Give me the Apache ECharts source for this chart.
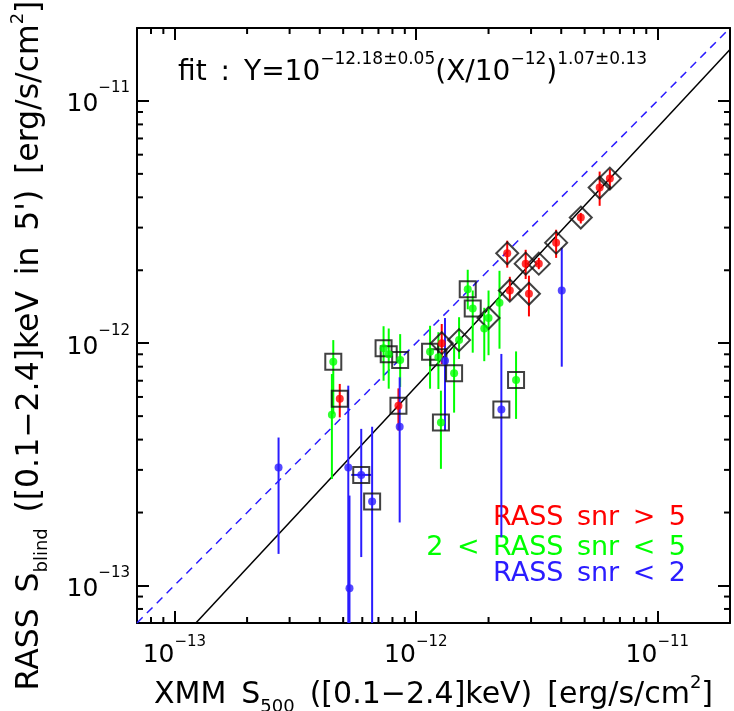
<!DOCTYPE html>
<html>
<head>
<meta charset="utf-8">
<script src="https://cdn.jsdelivr.net/npm/echarts@6/dist/echarts.min.js"></script>
<style>
  html, body { margin: 0; padding: 0; background: #fff; }
  #chart { width: 734px; height: 711px; }
</style>
</head>
<body>
<div id="chart"></div>
<script>
// all fluxes in units of 1e-12 erg/s/cm2
const axisMin = 0.07;
const axisMax = 20;

// RASS snr > 5
const redX    = [6.36, 5.77, 4.82, 3.81, 2.39, 2.85, 3.23, 2.45, 2.94, 1.28, 0.847, 0.484];
const redY    = [4.78, 4.39, 3.30, 2.60, 2.35, 2.13, 2.13, 1.65, 1.60, 1.00, 0.552, 0.590];
const redLo   = [4.32, 3.69, 3.12, 2.25, 2.05, 1.84, 2.02, 1.50, 1.29, 0.82, 0.436, 0.494];
const redHi   = [5.23, 5.11, 3.45, 2.94, 2.65, 2.43, 2.25, 1.88, 1.90, 1.20, 0.651, 0.679];
const redMark = ['d', 'd', 'd', 'd', 'd', 'd', 'd', 'd', 'd', 'd', 's', 's'];

// 2 < RASS snr < 5
const greenX    = [0.455, 0.449, 0.735, 0.772, 0.861, 1.145, 1.24, 1.51, 1.44, 1.27, 1.64, 1.72, 2.00, 1.92, 2.22, 2.60];
const greenY    = [0.839, 0.507, 0.954, 0.901, 0.852, 0.923, 0.876, 1.03, 0.752, 0.471, 1.67, 1.39, 1.27, 1.15, 1.47, 0.705];
const greenLo   = [0.511, 0.275, 0.700, 0.649, 0.660, 0.649, 0.647, 0.861, 0.517, 0.303, 1.38, 0.914, 0.892, 0.843, 0.949, 0.487];
const greenHi   = [1.03, 0.746, 1.175, 1.15, 1.09, 1.18, 1.11, 1.28, 0.961, 0.637, 2.01, 1.65, 1.65, 1.40, 1.99, 0.925];
const greenMark = ['s', '', 's', 's', 's', 's', 's', 'd', 's', 's', 's', 's', 'd', '', '', 's'];

// RASS snr < 2  (lower ends below 0.07 run off the axis)
const blueX    = [4.02, 1.32, 2.26, 0.857, 0.659, 0.594, 0.525, 0.531, 0.270];
const blueY    = [1.65, 0.847, 0.532, 0.452, 0.222, 0.286, 0.307, 0.0975, 0.307];
const blueLo   = [0.800, 0.436, 0.158, 0.182, 0.01, 0.131, 0.01, 0.01, 0.135];
const blueHi   = [2.48, 1.27, 0.903, 0.723, 0.452, 0.443, 0.668, 0.235, 0.408];
const blueXLo  = [null, null, null, null, null, 0.540, null, null, null];
const blueXHi  = [null, null, null, null, null, 0.653, null, null, null];
const blueMark = ['', '', 's', '', 's', 's', '', '', ''];

// fit: Y = 10^a (X/1e-12)^b
const fitNorm = -12.18;
const fitSlope = 1.07;

const majorTicks = [-13, -12, -11];

const RED = '#ff0000';
const GREEN = '#00ff00';
const BLUE = '#2a1cff';
const FONT = 'DejaVu Sans';
const EN = '\u2002';

const lg = v => Math.log10(v * 1e-12);
const xMin = lg(axisMin);
const xMax = lg(axisMax);

const minorTicks = [];
for (let n = -14; n <= -11; n++) {
  for (let k = 2; k <= 9; k++) {
    const t = n + Math.log10(k);
    if (t > xMin && t < xMax) minorTicks.push(t);
  }
}

const groups = [
  { color: RED, x: redX, y: redY, lo: redLo, hi: redHi, mark: redMark },
  { color: GREEN, x: greenX, y: greenY, lo: greenLo, hi: greenHi, mark: greenMark },
  { color: BLUE, x: blueX, y: blueY, lo: blueLo, hi: blueHi, mark: blueMark, xlo: blueXLo, xhi: blueXHi }
];

const tickRich = {
  b: { fontSize: 25, fontFamily: FONT, color: '#000', lineHeight: 40 },
  e: { fontSize: 15, fontFamily: FONT, color: '#000', verticalAlign: 'top' }
};
const tickRichY = {
  b: { fontSize: 25, fontFamily: FONT, color: '#000', lineHeight: 40, padding: [8, 0, 0, 0] },
  e: { fontSize: 15, fontFamily: FONT, color: '#000', verticalAlign: 'top', padding: [0, 0, 0, 0] }
};
const tickFormatter = v => '{b|10}{e|−' + Math.abs(Math.round(v)) + '}';

const titleRich = size => ({
  t: { fontSize: size, fontFamily: FONT, color: '#000', lineHeight: 42 },
  sub: { fontSize: 18, fontFamily: FONT, color: '#000', verticalAlign: 'bottom' },
  sup: { fontSize: 18, fontFamily: FONT, color: '#000', verticalAlign: 'top' }
});

function makeAxis(pos, opts) {
  return Object.assign({
    type: 'value',
    min: xMin,
    max: xMax,
    position: pos,
    axisLine: { show: true, onZero: false, lineStyle: { color: '#000', width: 2 } },
    axisTick: {
      show: true,
      inside: true,
      length: 12,
      lineStyle: { color: '#000', width: 2 },
      customValues: majorTicks
    },
    axisLabel: { show: false },
    splitLine: { show: false }
  }, opts || {});
}

const xAxis = [
  makeAxis('bottom', {
    axisLabel: {
      show: true, margin: 12, customValues: majorTicks,
      formatter: tickFormatter, rich: tickRich
    },
    name: `{t|XMM${EN}S}{sub|500}{t|${EN}([0.1−2.4]keV)${EN}[erg/s/cm}{sup|2}{t|]}`,
    nameLocation: 'middle',
    nameGap: 51,
    nameTextStyle: { rich: titleRich(30) }
  }),
  makeAxis('top')
];

const yAxis = [
  makeAxis('left', {
    axisLabel: {
      show: true, margin: 7, customValues: majorTicks,
      formatter: tickFormatter, rich: tickRichY
    },
    name: `{t|RASS${EN}S}{sub|blind}{t|${EN}([0.1−2.4]keV${EN}in${EN}5')${EN}[erg/s/cm}{sup|2}{t|]}`,
    nameLocation: 'middle',
    nameGap: 86,
    nameTextStyle: { rich: titleRich(31.5), padding: [0, 40, 0, 0] }
  }),
  makeAxis('right')
];

const series = [];

// minor (log) ticks on all four sides
series.push({
  type: 'custom',
  z: 5,
  silent: true,
  data: minorTicks.map(t => [t, t]),
  encode: { x: 0, y: 1 },
  renderItem: (params, api) => {
    const p = api.coord([api.value(0), api.value(1)]);
    const cs = params.coordSys;
    const L = 6;
    const x0 = cs.x, x1 = cs.x + cs.width, y0 = cs.y, y1 = cs.y + cs.height;
    const st = { stroke: '#000', lineWidth: 2 };
    return {
      type: 'group',
      children: [
        { type: 'line', shape: { x1: p[0], y1: y1, x2: p[0], y2: y1 - L }, style: st },
        { type: 'line', shape: { x1: p[0], y1: y0, x2: p[0], y2: y0 + L }, style: st },
        { type: 'line', shape: { x1: x0, y1: p[1], x2: x0 + L, y2: p[1] }, style: st },
        { type: 'line', shape: { x1: x1, y1: p[1], x2: x1 - L, y2: p[1] }, style: st }
      ]
    };
  }
});

// error bars
groups.forEach(g => {
  const bars = g.x.map((x, i) => [lg(x), lg(g.lo[i]), lg(g.hi[i])]);
  series.push({
    type: 'custom',
    z: 2,
    data: bars,
    encode: { x: 0, y: [1, 2] },
    renderItem: (params, api) => {
      const a = api.coord([api.value(0), api.value(1)]);
      const b = api.coord([api.value(0), api.value(2)]);
      const cs = params.coordSys;
      const clampY = y => Math.min(Math.max(y, cs.y), cs.y + cs.height);
      return {
        type: 'line',
        shape: { x1: a[0], y1: clampY(a[1]), x2: b[0], y2: clampY(b[1]) },
        style: { stroke: g.color, lineWidth: 2 }
      };
    }
  });
  if (g.xlo) {
    const hbars = [];
    g.x.forEach((x, i) => {
      if (g.xlo[i] != null) hbars.push([lg(g.xlo[i]), lg(g.xhi[i]), lg(g.y[i])]);
    });
    series.push({
      type: 'custom',
      z: 2,
      data: hbars,
      encode: { x: [0, 1], y: 2 },
      renderItem: (params, api) => {
        const a = api.coord([api.value(0), api.value(2)]);
        const b = api.coord([api.value(1), api.value(2)]);
        return {
          type: 'line',
          shape: { x1: a[0], y1: a[1], x2: b[0], y2: b[1] },
          style: { stroke: g.color, lineWidth: 2 }
        };
      }
    });
  }
});

// fit line and 1:1 line
const fitAt = lx => fitNorm + fitSlope * (lx + 12);
series.push({
  type: 'line',
  z: 1,
  showSymbol: false,
  silent: true,
  clip: true,
  data: [[xMin, fitAt(xMin)], [xMax, fitAt(xMax)]],
  lineStyle: { color: '#000', width: 1.5 }
});
series.push({
  type: 'line',
  z: 1,
  showSymbol: false,
  silent: true,
  clip: true,
  data: [[xMin, xMin], [xMax, xMax]],
  lineStyle: { color: BLUE, width: 1.5, type: [8, 6] }
});

// markers
const squares = [];
const diamonds = [];
groups.forEach(g => {
  g.x.forEach((x, i) => {
    if (g.mark[i] === 's') squares.push([lg(x), lg(g.y[i])]);
    if (g.mark[i] === 'd') diamonds.push([lg(x), lg(g.y[i])]);
  });
});
series.push({
  type: 'scatter',
  z: 3,
  symbol: 'rect',
  symbolSize: 16,
  data: squares,
  itemStyle: { color: 'rgba(0,0,0,0)', borderColor: '#111', borderWidth: 2 }
});
series.push({
  type: 'scatter',
  z: 3,
  symbol: 'diamond',
  symbolSize: 22,
  data: diamonds,
  itemStyle: { color: 'rgba(0,0,0,0)', borderColor: '#111', borderWidth: 2 }
});

// dots
groups.forEach(g => {
  series.push({
    type: 'scatter',
    z: 4,
    symbol: 'circle',
    symbolSize: 8,
    data: g.x.map((x, i) => [lg(x), lg(g.y[i])]),
    itemStyle: { color: g.color }
  });
});

const fitRich = {
  m: { fontSize: 28, fontFamily: FONT, color: '#000', lineHeight: 44 },
  s: { fontSize: 17, fontFamily: FONT, color: '#000', verticalAlign: 'top' }
};

const legendText = (txt, color, top) => ({
  type: 'text',
  right: 734 - 686,
  top: top,
  style: { text: txt, fill: color, font: '27px "DejaVu Sans"' }
});

const chart = echarts.init(document.getElementById('chart'));
chart.setOption({
  animation: false,
  backgroundColor: '#fff',
  grid: { left: 137, right: 4, top: 28, bottom: 88, containLabel: false, outerBoundsMode: 'none' },
  xAxis,
  yAxis,
  series,
  graphic: [
    {
      type: 'text',
      left: 178,
      top: 51,
      style: {
        text: `{m|fit${EN}:${EN}Y=10}{s|−12.18±0.05}{m|(X/10}{s|−12}{m|)}{s|1.07±0.13}`,
        rich: fitRich
      }
    },
    legendText(`RASS${EN}snr${EN}>${EN}5`, RED, 504),
    legendText(`2${EN}<${EN}RASS${EN}snr${EN}<${EN}5`, GREEN, 534),
    legendText(`RASS${EN}snr${EN}<${EN}2`, BLUE, 560)
  ]
});
</script>
</body>
</html>
